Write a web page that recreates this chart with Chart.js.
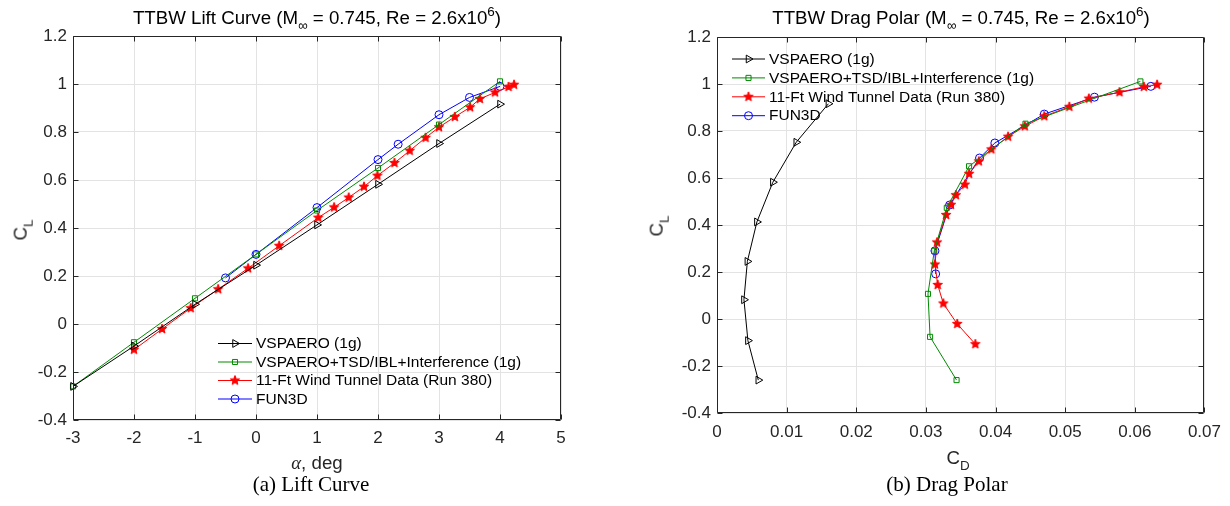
<!DOCTYPE html>
<html>
<head>
<meta charset="utf-8">
<title>TTBW Lift Curve and Drag Polar</title>
<script src="https://cdn.jsdelivr.net/npm/chart.js@4.4.1/dist/chart.umd.min.js"></script>
<style>
  html, body { margin: 0; padding: 0; background: #fff; }
  #page { position: relative; width: 1230px; height: 506px; overflow: hidden;
          font-family: "Liberation Sans", Arial, Helvetica, sans-serif; color: #262626; }
  canvas { position: absolute; top: 0; }
  .txt { position: absolute; white-space: nowrap; line-height: 1; transform: translate(-50%, -50%); }
  .title { font-size: 18.7px; color: #000; }
  .lab { font-size: 18.7px; }
  .rot { transform: translate(-50%, -50%) rotate(-90deg); }
  .cap { font-family: "Liberation Serif", "Times New Roman", serif; font-size: 21px; color: #000; }
  .greek { font-family: "Liberation Serif", "Times New Roman", serif; font-style: italic; }
  sub { font-size: 0.72em; vertical-align: -0.45em; line-height: 0; }
  sup { font-size: 0.72em; vertical-align: 0.6em; line-height: 0; }
</style>
</head>
<body>
<div id="page">
  <canvas id="liftChart" width="615" height="506" style="left:0"></canvas>
  <canvas id="polarChart" width="615" height="506" style="left:615px"></canvas>

  <div class="txt title" style="left:317px; top:18px">TTBW Lift Curve (M<sub>∞</sub> = 0.745, Re = 2.6x10<sup>6</sup>)</div>
  <div class="txt title" style="left:961px; top:18px">TTBW Drag Polar (M<sub>∞</sub> = 0.745, Re = 2.6x10<sup>6</sup>)</div>

  <div class="txt lab rot" style="left:21px; top:230px">C<sub>L</sub></div>
  <div class="txt lab rot" style="left:657px; top:226px">C<sub>L</sub></div>

  <div class="txt lab" style="left:317px; top:463px"><span class="greek">α</span>, deg</div>
  <div class="txt lab" style="left:958px; top:458px">C<sub>D</sub></div>

  <div class="txt cap" style="left:311px; top:484px">(a) Lift Curve</div>
  <div class="txt cap" style="left:947px; top:484px">(b) Drag Polar</div>
</div>

<script>
// ---- data ----
const seriesNames = [
    'VSPAERO (1g)',
    'VSPAERO+TSD/IBL+Interference (1g)',
    '11-Ft Wind Tunnel Data (Run 380)',
    'FUN3D'
];

// VSPAERO (1g)
const vspAlpha = [-3, -2, -1, 0, 1, 2, 3, 4];
const vspCL = [-0.26, -0.092, 0.082, 0.245, 0.413, 0.582, 0.752, 0.916];
const vspCD = [0.00593, 0.00444, 0.00387, 0.00436, 0.00573, 0.00802, 0.01138, 0.0160];

// VSPAERO+TSD/IBL+Interference (1g)
const tsdAlpha = [-3, -2, -1, 0, 1, 2, 3, 4];
const tsdCL = [-0.26, -0.076, 0.107, 0.29, 0.473, 0.65, 0.831, 1.011];
const tsdCD = [0.0344, 0.0306, 0.0303, 0.0312, 0.0330, 0.0362, 0.0443, 0.0608];

// 11-Ft Wind Tunnel Data (Run 380)
const wtAlpha = [-2, -1.54, -1.07, -0.62, -0.13, 0.38, 1.02, 1.28, 1.52, 1.77, 1.99,
                 2.27, 2.52, 2.78, 3.0, 3.26, 3.51, 3.67, 3.92, 4.14, 4.23];
const wtCL = [-0.107, -0.021, 0.066, 0.145, 0.232, 0.326, 0.443, 0.486, 0.527, 0.572, 0.618,
              0.671, 0.722, 0.776, 0.82, 0.863, 0.903, 0.938, 0.965, 0.988, 0.997];
const wtCD = [0.0371, 0.0345, 0.0325, 0.0317, 0.0313, 0.0316, 0.0329, 0.0336, 0.0343, 0.0356, 0.0362,
              0.0376, 0.0394, 0.0418, 0.0442, 0.0470, 0.0506, 0.0534, 0.0578, 0.0613, 0.0632];

// FUN3D
const funAlpha = [-0.5, 0, 1, 2, 2.33, 3, 3.5, 4];
const funCL = [0.192, 0.29, 0.485, 0.685, 0.749, 0.872, 0.944, 0.99];
const funCD = [0.0314, 0.0313, 0.0334, 0.0377, 0.0399, 0.0470, 0.0542, 0.0623];

// tick values
const alphaTicks = [-3, -2, -1, 0, 1, 2, 3, 4, 5];
const clTicks = [-0.4, -0.2, 0, 0.2, 0.4, 0.6, 0.8, 1, 1.2];
const cdTicks = [0, 0.01, 0.02, 0.03, 0.04, 0.05, 0.06, 0.07];

// ---- helpers ----
function pts(xs, ys) {
    return xs.map((x, i) => ({ x: x, y: ys[i] }));
}

function fmt(v) {
    return String(Math.round(v * 1000) / 1000);
}

function starImage(r, color) {
    const c = document.createElement('canvas');
    const s = Math.ceil(r * 2 + 2);
    c.width = s;
    c.height = s;
    const g = c.getContext('2d');
    g.beginPath();
    for (let i = 0; i < 10; i++) {
        const rr = i % 2 === 0 ? r : r * 0.42;
        const a = -Math.PI / 2 + i * Math.PI / 5;
        const px = s / 2 + rr * Math.cos(a);
        const py = s / 2 + rr * Math.sin(a);
        if (i === 0) g.moveTo(px, py); else g.lineTo(px, py);
    }
    g.closePath();
    g.fillStyle = color;
    g.fill();
    g.strokeStyle = color;
    g.lineWidth = 1;
    g.stroke();
    return c;
}

const redStar = starImage(5, '#ff0000');

const styles = [
    { color: '#000000', pointStyle: 'triangle', pointRadius: 4.5, pointRotation: 90 },
    { color: '#008a00', pointStyle: 'rect', pointRadius: 3.6, pointRotation: 0 },
    { color: '#ff0000', pointStyle: redStar, pointRadius: 5, pointRotation: 0 },
    { color: '#0000ff', pointStyle: 'circle', pointRadius: 4, pointRotation: 0 }
];

function makeDataset(i, data) {
    const s = styles[i];
    return {
        label: seriesNames[i],
        data: data,
        showLine: true,
        borderColor: s.color,
        borderWidth: 1,
        pointBorderColor: s.color,
        pointBackgroundColor: 'rgba(0,0,0,0)',
        pointBorderWidth: 1,
        pointStyle: s.pointStyle,
        pointRadius: s.pointRadius,
        pointHoverRadius: s.pointRadius,
        pointRotation: s.pointRotation,
        tension: 0,
        clip: false
    };
}

function drawMarker(ctx, ds, x, y) {
    ctx.save();
    ctx.strokeStyle = ds.pointBorderColor;
    ctx.fillStyle = ds.pointBackgroundColor;
    ctx.lineWidth = 1;
    if (Chart.helpers && Chart.helpers.drawPoint) {
        Chart.helpers.drawPoint(ctx, {
            pointStyle: ds.pointStyle,
            radius: ds.pointRadius,
            rotation: ds.pointRotation,
            borderWidth: 1
        }, x, y);
    }
    ctx.restore();
}

// box round the plot with ticks pointing inward (MATLAB look)
const axesBox = {
    id: 'axesBox',
    afterDatasetsDraw(chart) {
        const ctx = chart.ctx;
        const a = chart.chartArea;
        const sx = chart.scales.x;
        const sy = chart.scales.y;
        const L = Math.round(a.left) + 0.5;
        const R = Math.round(a.right) - 0.5;
        const T = Math.round(a.top) + 0.5;
        const B = Math.round(a.bottom) - 0.5;
        const len = 5;
        ctx.save();
        ctx.strokeStyle = '#262626';
        ctx.lineWidth = 1;
        ctx.beginPath();
        ctx.rect(L, T, R - L, B - T);
        sx.ticks.forEach(t => {
            const px = Math.round(sx.getPixelForValue(t.value)) + 0.5;
            ctx.moveTo(px, B); ctx.lineTo(px, B - len);
            ctx.moveTo(px, T); ctx.lineTo(px, T + len);
        });
        sy.ticks.forEach(t => {
            const py = Math.round(sy.getPixelForValue(t.value)) + 0.5;
            ctx.moveTo(L, py); ctx.lineTo(L + len, py);
            ctx.moveTo(R, py); ctx.lineTo(R - len, py);
        });
        ctx.stroke();
        ctx.restore();
    }
};

// legend drawn inside the plot area
const insideLegend = {
    id: 'insideLegend',
    afterDatasetsDraw(chart, args, opts) {
        const ctx = chart.ctx;
        ctx.save();
        ctx.font = opts.font;
        ctx.textBaseline = 'middle';
        ctx.textAlign = 'left';
        chart.data.datasets.forEach((ds, i) => {
            const y = opts.y + i * opts.rowH;
            ctx.strokeStyle = ds.borderColor;
            ctx.lineWidth = 1;
            ctx.beginPath();
            ctx.moveTo(opts.x, y + 0.5);
            ctx.lineTo(opts.x + opts.lineLen, y + 0.5);
            ctx.stroke();
            drawMarker(ctx, ds, opts.x + opts.lineLen / 2, y + 0.5);
            ctx.fillStyle = '#000';
            ctx.fillText(ds.label, opts.x + opts.lineLen + opts.gap, y + 1);
        });
        ctx.restore();
    }
};

function makeScales(xMin, xMax, xTicks, xPad, yWidth, xHeight) {
    const tickFont = { family: '"Liberation Sans", Arial, Helvetica, sans-serif', size: 17 };
    return {
        x: {
            type: 'linear',
            min: xMin,
            max: xMax,
            afterBuildTicks: axis => { axis.ticks = xTicks.map(v => ({ value: v })); },
            afterFit: axis => { axis.height = xHeight; },
            grid: { color: '#e3e3e3', drawTicks: false },
            border: { display: false },
            ticks: {
                font: tickFont,
                color: '#262626',
                padding: xPad,
                autoSkip: false,
                maxRotation: 0,
                callback: v => fmt(v)
            }
        },
        y: {
            type: 'linear',
            min: -0.4,
            max: 1.2,
            afterBuildTicks: axis => { axis.ticks = clTicks.map(v => ({ value: v })); },
            afterFit: axis => { axis.width = yWidth; },
            grid: { color: '#e3e3e3', drawTicks: false },
            border: { display: false },
            ticks: {
                font: tickFont,
                color: '#262626',
                padding: 6,
                autoSkip: false,
                callback: v => fmt(v)
            }
        }
    };
}

const legendFont = '15.5px "Liberation Sans", Arial, Helvetica, sans-serif';

new Chart(document.getElementById('liftChart'), {
    type: 'scatter',
    data: {
        datasets: [
            makeDataset(0, pts(vspAlpha, vspCL)),
            makeDataset(1, pts(tsdAlpha, tsdCL)),
            makeDataset(2, pts(wtAlpha, wtCL)),
            makeDataset(3, pts(funAlpha, funCL))
        ]
    },
    options: {
        responsive: false,
        animation: false,
        events: [],
        layout: { padding: { left: 0, right: 54, top: 36, bottom: 0 } },
        plugins: {
            legend: { display: false },
            tooltip: { enabled: false },
            insideLegend: { x: 218, y: 343, rowH: 18.5, lineLen: 34, gap: 4, font: legendFont }
        },
        scales: makeScales(-3, 5, alphaTicks, 8, 73, 86)
    },
    plugins: [axesBox, insideLegend]
});

new Chart(document.getElementById('polarChart'), {
    type: 'scatter',
    data: {
        datasets: [
            makeDataset(0, pts(vspCD, vspCL)),
            makeDataset(1, pts(tsdCD, tsdCL)),
            makeDataset(2, pts(wtCD, wtCL)),
            makeDataset(3, pts(funCD, funCL))
        ]
    },
    options: {
        responsive: false,
        animation: false,
        events: [],
        layout: { padding: { left: 0, right: 24, top: 37, bottom: 0 } },
        plugins: {
            legend: { display: false },
            tooltip: { enabled: false },
            insideLegend: { x: 117, y: 58.5, rowH: 18.9, lineLen: 33, gap: 4, font: legendFont }
        },
        scales: makeScales(0, 0.07, cdTicks, 9, 102, 93)
    },
    plugins: [axesBox, insideLegend]
});
</script>
</body>
</html>
